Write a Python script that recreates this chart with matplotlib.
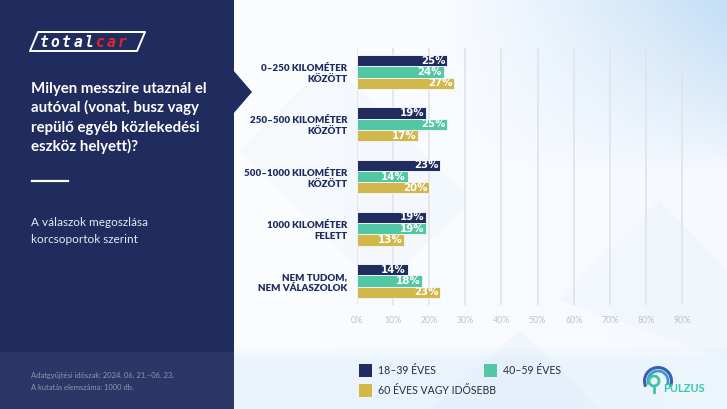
import matplotlib
matplotlib.use("Agg")
import matplotlib.pyplot as plt
import numpy as np
from matplotlib.patches import Rectangle, Polygon, Arc, Circle
from matplotlib.lines import Line2D

# ---------------- data ----------------
categories = ["0–250 KILOMÉTER\nKÖZÖTT",
              "250–500 KILOMÉTER\nKÖZÖTT",
              "500–1000 KILOMÉTER\nKÖZÖTT",
              "1000 KILOMÉTER\nFELETT",
              "NEM TUDOM,\nNEM VÁLASZOLOK"]
series_names = ["18–39 ÉVES", "40–59 ÉVES", "60 ÉVES VAGY IDŐSEBB"]
age_18_39 = [25, 19, 23, 19, 14]
age_40_59 = [24, 25, 14, 19, 18]
age_60_plus = [27, 17, 20, 13, 23]
x_ticks = [0, 10, 20, 30, 40, 50, 60, 70, 80, 90]
x_tick_labels = ["0%", "10%", "20%", "30%", "40%", "50%", "60%", "70%", "80%", "90%"]

title_lines = ["Milyen messzire utaznál el",
               "autóval (vonat, busz vagy",
               "repülő egyéb közlekedési",
               "eszköz helyett)?"]
subtitle_lines = ["A válaszok megoszlása", "korcsoportok szerint"]
footer_lines = ["Adatgyűjtési időszak: 2024. 06. 21.–06. 23.",
                "A kutatás elemszáma: 1000 db."]

colors = ["#1f2c5d", "#52c7a3", "#d2b74b"]
NAVY = "#1f2c5d"

W, H = 727, 409
fig = plt.figure(figsize=(W / 100, H / 100), dpi=100)

# ---------------- background (pixel coords) ----------------
bg = fig.add_axes([0, 0, 1, 1])
bg.set_xlim(0, W)
bg.set_ylim(H, 0)
bg.axis("off")

yy, xx = np.mgrid[0:H, 0:W]
w = 0.95 * np.clip((xx - 430) / 297, 0, 1) ** 1.3 * np.clip((170 - yy) / 170, 0, 1) ** 0.8
w += 0.10 * np.clip((xx - 240) / 487, 0, 1)
w += 0.28 * np.clip((yy - 345) / 15, 0, 1) * (1 - 0.4 * np.clip((xx - 400) / 327, 0, 1))
w = np.clip(w, 0, 1)
blue = np.array([0.77, 0.875, 0.965])
white = np.array([0.985, 0.99, 1.0])
img = white[None, None, :] * (1 - w[..., None]) + blue[None, None, :] * w[..., None]
bg.imshow(img, extent=[0, W, H, 0], aspect="auto", zorder=0)

# faint diagonal facets
for poly, a in [([(240, 150), (330, 60), (470, 200), (380, 290)], 0.05),
                ([(560, 300), (660, 200), (727, 270), (727, 360)], 0.05),
                ([(430, 409), (520, 330), (600, 409)], 0.06)]:
    bg.add_patch(Polygon(poly, closed=True, fc="#9cc4e8", ec="none", alpha=a, zorder=1))

# left panel
bg.add_patch(Rectangle((0, 0), 234, H, fc=NAVY, ec="none", zorder=2))
bg.add_patch(Rectangle((0, 352), 234, H - 352, fc="#2b3867", ec="none", zorder=3))
bg.add_patch(Polygon([(233, 70), (252, 92), (233, 114)], closed=True, fc=NAVY, ec="none", zorder=3))

# totalcar logo
bg.add_patch(Polygon([(30, 51), (38, 32), (145, 32), (137, 51)], closed=True,
                     fc="none", ec="white", lw=1.4, joinstyle="round", zorder=4))
for i, ch in enumerate("totalcar"):
    bg.text(44 + i * 11.2, 42.5, ch, color="white" if i < 5 else "#e3262e",
            fontsize=10.5, family="DejaVu Sans Mono", style="oblique", weight="bold",
            ha="center", va="center", zorder=5)

# title
for i, line in enumerate(title_lines):
    bg.text(31, 93 + i * 19.3, line, color="white", fontsize=10.8, family="Lato",
            weight="bold", ha="left", va="baseline", zorder=5)
bg.add_line(Line2D([32, 68], [181, 181], color="white", lw=1.6, zorder=5))
for i, line in enumerate(subtitle_lines):
    bg.text(31, 225.5 + i * 17.2, line, color="#e6e9f0", fontsize=8.5, family="Lato",
            ha="left", va="baseline", zorder=5)
for i, line in enumerate(footer_lines):
    bg.text(31, 378 + i * 12, line, color="#8d96b4", fontsize=5.45, family="Lato",
            ha="left", va="baseline", zorder=5)

# legend
leg_pos = [(359, 364), (484, 364), (359, 384)]
for (lx, ly), c, name in zip(leg_pos, colors, series_names):
    bg.add_patch(Rectangle((lx, ly), 13, 13, fc=c, ec="none", zorder=5))
    bg.text(lx + 19, ly + 7, name, color="#252b45", fontsize=7.6, family="Lato",
            ha="left", va="center", zorder=5)

# Pulzus logo
cx, cy = 658, 381
bg.add_patch(Arc((cx, cy), 27, 27, theta1=-205, theta2=25, color="#3b5fb0", lw=2.2, zorder=5))
bg.add_patch(Arc((cx, cy), 20, 20, theta1=-200, theta2=20, color="#3a9fc4", lw=2.0, zorder=5))
bg.add_patch(Circle((cx - 4, cy), 5, fc="none", ec="#41c2a8", lw=2.0, zorder=5))
bg.add_line(Line2D([cx - 4, cx - 4], [cy + 5, cy + 11], color="#41c2a8", lw=2.0, zorder=5))
bg.text(663, 392, "PULZUS", color="#3cc7ae", fontsize=8, family="Lato", weight="bold",
        ha="left", va="baseline", zorder=6)

# ---------------- chart ----------------
ax = fig.add_axes([357 / W, 1 - 305 / H, 343 / W, 257 / H])
ax.patch.set_alpha(0)
ax.set_xlim(0, 95)
ax.set_ylim(4.46, -0.46)

h = 0.216
series = [age_18_39, age_40_59, age_60_plus]
ypos = np.arange(len(categories))
for j, (vals, c) in enumerate(zip(series, colors)):
    bars = ax.barh(ypos + (j - 1) * h, vals, height=h, color=c,
                   edgecolor="#eef3f8", linewidth=0.7, zorder=3)
    for b, v in zip(bars, vals):
        ax.text(v - 0.45, b.get_y() + b.get_height() / 2, f"{v}%", color="white",
                fontsize=7.4, family=["Liberation Sans Narrow", "DejaVu Sans"], weight="bold",
                ha="right", va="center", zorder=4)

ax.set_xticks(x_ticks)
ax.set_xticklabels(x_tick_labels, family="Lato", fontsize=6.3, color="#bcc2cb")
ax.set_yticks(ypos)
ax.set_yticklabels(categories, family="Lato", fontsize=7, weight="heavy", color=NAVY,
                   linespacing=1.3)
for lbl in ax.get_yticklabels():
    lbl.set_multialignment("right")
ax.tick_params(axis="x", length=0, pad=8)
ax.tick_params(axis="y", length=0, pad=7)
ax.grid(axis="x", color="#e2e5ea", lw=1.3, zorder=0)
ax.set_axisbelow(True)
for s in ax.spines.values():
    s.set_visible(False)

fig.savefig("out.png", dpi=100)
